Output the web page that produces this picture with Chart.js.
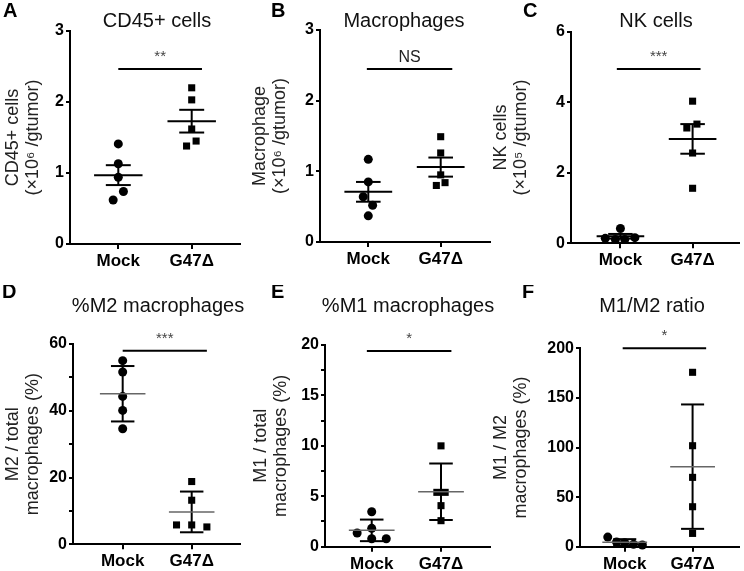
<!DOCTYPE html>
<html>
<head>
<meta charset="utf-8">
<script src="https://cdn.jsdelivr.net/npm/chart.js@4"></script>
<style>
  body { margin: 0; background: #fff; }
  #wrap { position: relative; width: 744px; height: 571px; overflow: hidden; }
  canvas { position: absolute; }
</style>
</head>
<body>
<div id="wrap">
  <canvas id="cA" width="260" height="285" style="left:0;top:0"></canvas>
  <canvas id="cB" width="260" height="285" style="left:245px;top:0"></canvas>
  <canvas id="cC" width="254" height="285" style="left:490px;top:0"></canvas>
  <canvas id="cD" width="260" height="286" style="left:0;top:285px"></canvas>
  <canvas id="cE" width="260" height="286" style="left:245px;top:285px"></canvas>
  <canvas id="cF" width="254" height="286" style="left:490px;top:285px"></canvas>
</div>
<script>
const categories = ['Mock', 'G47Δ'];

// A - CD45+ cells (x10^6 / g tumor), mean +/- SEM
const aMock = [1.41, 1.13, 0.94, 0.74, 0.62];
const aMockJit = [0, 0, 0, 0.07, -0.07];
const aG47 = [2.20, 2.03, 1.62, 1.45, 1.38];
const aG47Jit = [0, 0, 0, 0.06, -0.07];
const aMean = [0.97, 1.73];
const aErr = [0.14, 0.16];
const aTicks = [0, 1, 2, 3];
const aLabels = ['0', '1', '2', '3'];

// B - macrophages
const bMock = [1.17, 0.85, 0.64, 0.52, 0.37];
const bMockJit = [0, 0, -0.07, 0.06, 0];
const bG47 = [1.49, 1.26, 0.95, 0.84, 0.80];
const bG47Jit = [0, 0, 0, 0.06, -0.06];
const bMean = [0.71, 1.06];
const bErr = [0.14, 0.135];
const bTicks = [0, 1, 2, 3];
const bLabels = ['0', '1', '2', '3'];

// C - NK cells (x10^5 / g tumor)
const cMock = [0.42, 0.14, 0.11, 0.11, 0.16];
const cMockJit = [0, -0.21, -0.07, 0.06, 0.2];
const cG47 = [4.03, 3.38, 3.27, 2.56, 1.56];
const cG47Jit = [0, 0.06, -0.08, 0, 0];
const cMean = [0.20, 2.96];
const cErr = [0.065, 0.42];
const cTicks = [0, 2, 4, 6];
const cLabels = ['0', '2', '4', '6'];

// D - %M2 macrophages, mean +/- SD
const dMock = [55.0, 51.6, 44.3, 40.1, 34.6];
const dMockJit = [0, 0, 0, 0, 0];
const dG47 = [18.8, 13.2, 5.8, 5.8, 5.2];
const dG47Jit = [0, 0, -0.22, 0, 0.22];
const dMean = [45.1, 9.7];
const dErr = [8.3, 6.1];
const dTicks = [0, 10, 20, 30, 40, 50, 60];
const dLabels = ['0', '', '20', '', '40', '', '60'];

// E - %M1 macrophages
const eMock = [3.47, 1.82, 1.36, 0.79, 0.79];
const eMockJit = [0, 0, -0.21, 0, 0.21];
const eG47 = [10.0, 5.39, 5.39, 4.07, 2.58];
const eG47Jit = [0, -0.06, 0.06, 0, 0];
const eMean = [1.62, 5.45];
const eErr = [1.07, 2.8];
const eTicks = [0, 2.5, 5, 7.5, 10, 12.5, 15, 17.5, 20];
const eLabels = ['0', '', '5', '', '10', '', '15', '', '20'];

// F - M1/M2 ratio
const fMock = [9.7, 4.7, 4.0, 2.4, 1.7];
const fMockJit = [-0.25, -0.12, 0, 0.13, 0.26];
const fG47 = [175.8, 101.8, 69.9, 40.3, 13.4];
const fG47Jit = [0, 0, 0, 0, 0];
const fMean = [4.4, 80.7];
const fErr = [3.2, 62.7];
const fTicks = [0, 50, 100, 150, 200];
const fLabels = ['0', '50', '100', '150', '200'];

const FONT = '"Liberation Sans", Arial, Helvetica, sans-serif';

const panels = [
  { id: 'cA', letter: 'A', letterX: 3, letterY: 17, title: 'CD45+ cells', titleX: 157,
    yTitle: ['CD45+ cells', '(×10⁶ /gtumor)'], titlePad: 3.5,
    area: { l: 70, t: 31, r: 240, b: 244 }, xMin: -0.658, xMax: 1.658, yMax: 3,
    ticks: aTicks, labels: aLabels, mock: aMock, mockJit: aMockJit, g47: aG47, g47Jit: aG47Jit,
    mean: aMean, err: aErr, meanColor: '#000', meanWidth: 2,
    sig: { y: 2.465, x0: 0, x1: 1.14, text: '**' } },
  { id: 'cB', letter: 'B', letterX: 26, letterY: 17, title: 'Macrophages', titleX: 159,
    yTitle: ['Macrophage', '(×10⁶ /gtumor)'], titlePad: 5.5,
    area: { l: 75, t: 30, r: 245, b: 242 }, xMin: -0.667, xMax: 1.681, yMax: 3,
    ticks: bTicks, labels: bLabels, mock: bMock, mockJit: bMockJit, g47: bG47, g47Jit: bG47Jit,
    mean: bMean, err: bErr, meanColor: '#000', meanWidth: 2,
    sig: { y: 2.448, x0: -0.02, x1: 1.16, text: 'NS' } },
  { id: 'cC', letter: 'C', letterX: 33, letterY: 17, title: 'NK cells', titleX: 166,
    yTitle: ['NK cells', '(×10⁵ /gtumor)'], titlePad: 1,
    area: { l: 81, t: 31.7, r: 250, b: 243.3 }, xMin: -0.685, xMax: 1.643, yMax: 6,
    ticks: cTicks, labels: cLabels, mock: cMock, mockJit: cMockJit, g47: cG47, g47Jit: cG47Jit,
    mean: cMean, err: cErr, meanColor: '#000', meanWidth: 2,
    sig: { y: 4.94, x0: -0.05, x1: 1.11, text: '***' } },
  { id: 'cD', letter: 'D', letterX: 2, letterY: 13, title: '%M2 macrophages', titleX: 158,
    yTitle: ['M2 / total', 'macrophages (%)'], titlePad: 3,
    area: { l: 73, t: 59, r: 240, b: 259.3 }, xMin: -0.72, xMax: 1.70, yMax: 60,
    ticks: dTicks, labels: dLabels, mock: dMock, mockJit: dMockJit, g47: dG47, g47Jit: dG47Jit,
    mean: dMean, err: dErr, meanColor: '#666', meanWidth: 1.5,
    sig: { y: 58.0, x0: 0, x1: 1.22, text: '***' } },
  { id: 'cE', letter: 'E', letterX: 26, letterY: 13, title: '%M1 macrophages', titleX: 163,
    yTitle: ['M1 / total', 'macrophages (%)'], titlePad: 6.5,
    area: { l: 80, t: 60, r: 245, b: 261.7 }, xMin: -0.674, xMax: 1.707, yMax: 20,
    ticks: eTicks, labels: eLabels, mock: eMock, mockJit: eMockJit, g47: eG47, g47Jit: eG47Jit,
    mean: eMean, err: eErr, meanColor: '#666', meanWidth: 1.5,
    sig: { y: 19.4, x0: -0.07, x1: 1.15, text: '*' } },
  { id: 'cF', letter: 'F', letterX: 32, letterY: 13, title: 'M1/M2 ratio', titleX: 162,
    yTitle: ['M1 / M2', 'macrophages (%)'], titlePad: 1,
    area: { l: 90, t: 63.3, r: 250, b: 261.7 }, xMin: -0.659, xMax: 1.684, yMax: 200,
    ticks: fTicks, labels: fLabels, mock: fMock, mockJit: fMockJit, g47: fG47, g47Jit: fG47Jit,
    mean: fMean, err: fErr, meanColor: '#666', meanWidth: 1.5,
    sig: { y: 200, x0: -0.03, x1: 1.2, text: '*' } }
];

function hline(ctx, x0, x1, y) {
  ctx.beginPath(); ctx.moveTo(x0, y); ctx.lineTo(x1, y); ctx.stroke();
}

function decor(p) {
  return {
    id: 'decor',
    afterDatasetsDraw(chart) {
      const ctx = chart.ctx, xs = chart.scales.x, ys = chart.scales.y;
      ctx.save();
      // mean and error bars
      for (let i = 0; i < 2; i++) {
        const m = p.mean[i], e = p.err[i];
        const cx = xs.getPixelForValue(i);
        const yTop = ys.getPixelForValue(m + e), yBot = ys.getPixelForValue(Math.max(0, m - e));
        ctx.strokeStyle = '#000';
        ctx.lineWidth = 2;
        ctx.beginPath(); ctx.moveTo(cx, yTop); ctx.lineTo(cx, yBot); ctx.stroke();
        hline(ctx, xs.getPixelForValue(i - 0.17), xs.getPixelForValue(i + 0.17), yTop);
        hline(ctx, xs.getPixelForValue(i - 0.17), xs.getPixelForValue(i + 0.17), yBot);
        ctx.strokeStyle = p.meanColor;
        ctx.lineWidth = p.meanWidth;
        hline(ctx, xs.getPixelForValue(i - 0.33), xs.getPixelForValue(i + 0.33), ys.getPixelForValue(m));
      }
      // significance bar
      const sy = ys.getPixelForValue(p.sig.y);
      const sx0 = xs.getPixelForValue(p.sig.x0), sx1 = xs.getPixelForValue(p.sig.x1);
      ctx.strokeStyle = '#000';
      ctx.lineWidth = 2;
      hline(ctx, sx0, sx1, sy);
      ctx.textAlign = 'center';
      ctx.textBaseline = 'alphabetic';
      if (p.sig.text === 'NS') {
        ctx.fillStyle = '#222';
        ctx.font = '16px ' + FONT;
        ctx.fillText(p.sig.text, (sx0 + sx1) / 2, sy - 7);
      } else {
        ctx.fillStyle = '#444';
        ctx.font = '15px ' + FONT;
        ctx.fillText(p.sig.text, (sx0 + sx1) / 2, sy - 8);
      }
      // panel title and letter
      ctx.fillStyle = '#111';
      ctx.font = '20px ' + FONT;
      ctx.fillText(p.title, p.titleX, 27);
      ctx.textAlign = 'left';
      ctx.fillStyle = '#000';
      ctx.font = 'bold 20px ' + FONT;
      ctx.fillText(p.letter, p.letterX, p.letterY);
      ctx.restore();
    }
  };
}

function makePanel(p) {
  const canvas = document.getElementById(p.id);
  const W = canvas.width, H = canvas.height;
  new Chart(canvas, {
    type: 'scatter',
    data: {
      datasets: [
        { label: categories[0], data: p.mock.map((v, i) => ({ x: 0 + p.mockJit[i], y: v })),
          pointStyle: 'circle', pointRadius: 4.5, pointHoverRadius: 4.5,
          backgroundColor: '#000', borderWidth: 0, clip: false },
        { label: categories[1], data: p.g47.map((v, i) => ({ x: 1 + p.g47Jit[i], y: v })),
          pointStyle: 'rect', pointRadius: 5, pointHoverRadius: 5,
          backgroundColor: '#000', borderWidth: 0, clip: false }
      ]
    },
    options: {
      responsive: false,
      animation: false,
      layout: { padding: { top: p.area.t, right: W - p.area.r, bottom: 0, left: 0 } },
      plugins: { legend: { display: false }, tooltip: { enabled: false } },
      scales: {
        x: {
          type: 'linear', min: p.xMin, max: p.xMax,
          afterBuildTicks: s => { s.ticks = [{ value: 0 }, { value: 1 }]; },
          afterFit: s => { s.height = H - p.area.b; },
          ticks: { callback: v => categories[v], color: '#000', padding: 2,
                   maxRotation: 0, autoSkip: false, font: { family: FONT, size: 17, weight: 'bold' } },
          grid: { display: true, drawOnChartArea: false, drawTicks: true, tickLength: 5, color: '#000', lineWidth: 2 },
          border: { display: true, color: '#000', width: 2 }
        },
        y: {
          min: 0, max: p.yMax,
          afterBuildTicks: s => { s.ticks = p.ticks.map(v => ({ value: v })); },
          afterFit: s => { s.width = p.area.l; },
          ticks: { callback: (v, i) => p.labels[i], color: '#000', padding: 2,
                   autoSkip: false, font: { family: FONT, size: 16, weight: 'bold' } },
          grid: { display: true, drawOnChartArea: false, drawTicks: true, tickLength: 4, color: '#000', lineWidth: 2 },
          border: { display: true, color: '#000', width: 2 },
          title: { display: true, text: p.yTitle, color: '#222',
                   font: { family: FONT, size: 18, lineHeight: 20 / 18 },
                   padding: { top: p.titlePad, bottom: 0 } }
        }
      }
    },
    plugins: [decor(p)]
  });
}

panels.forEach(makePanel);
</script>
</body>
</html>
